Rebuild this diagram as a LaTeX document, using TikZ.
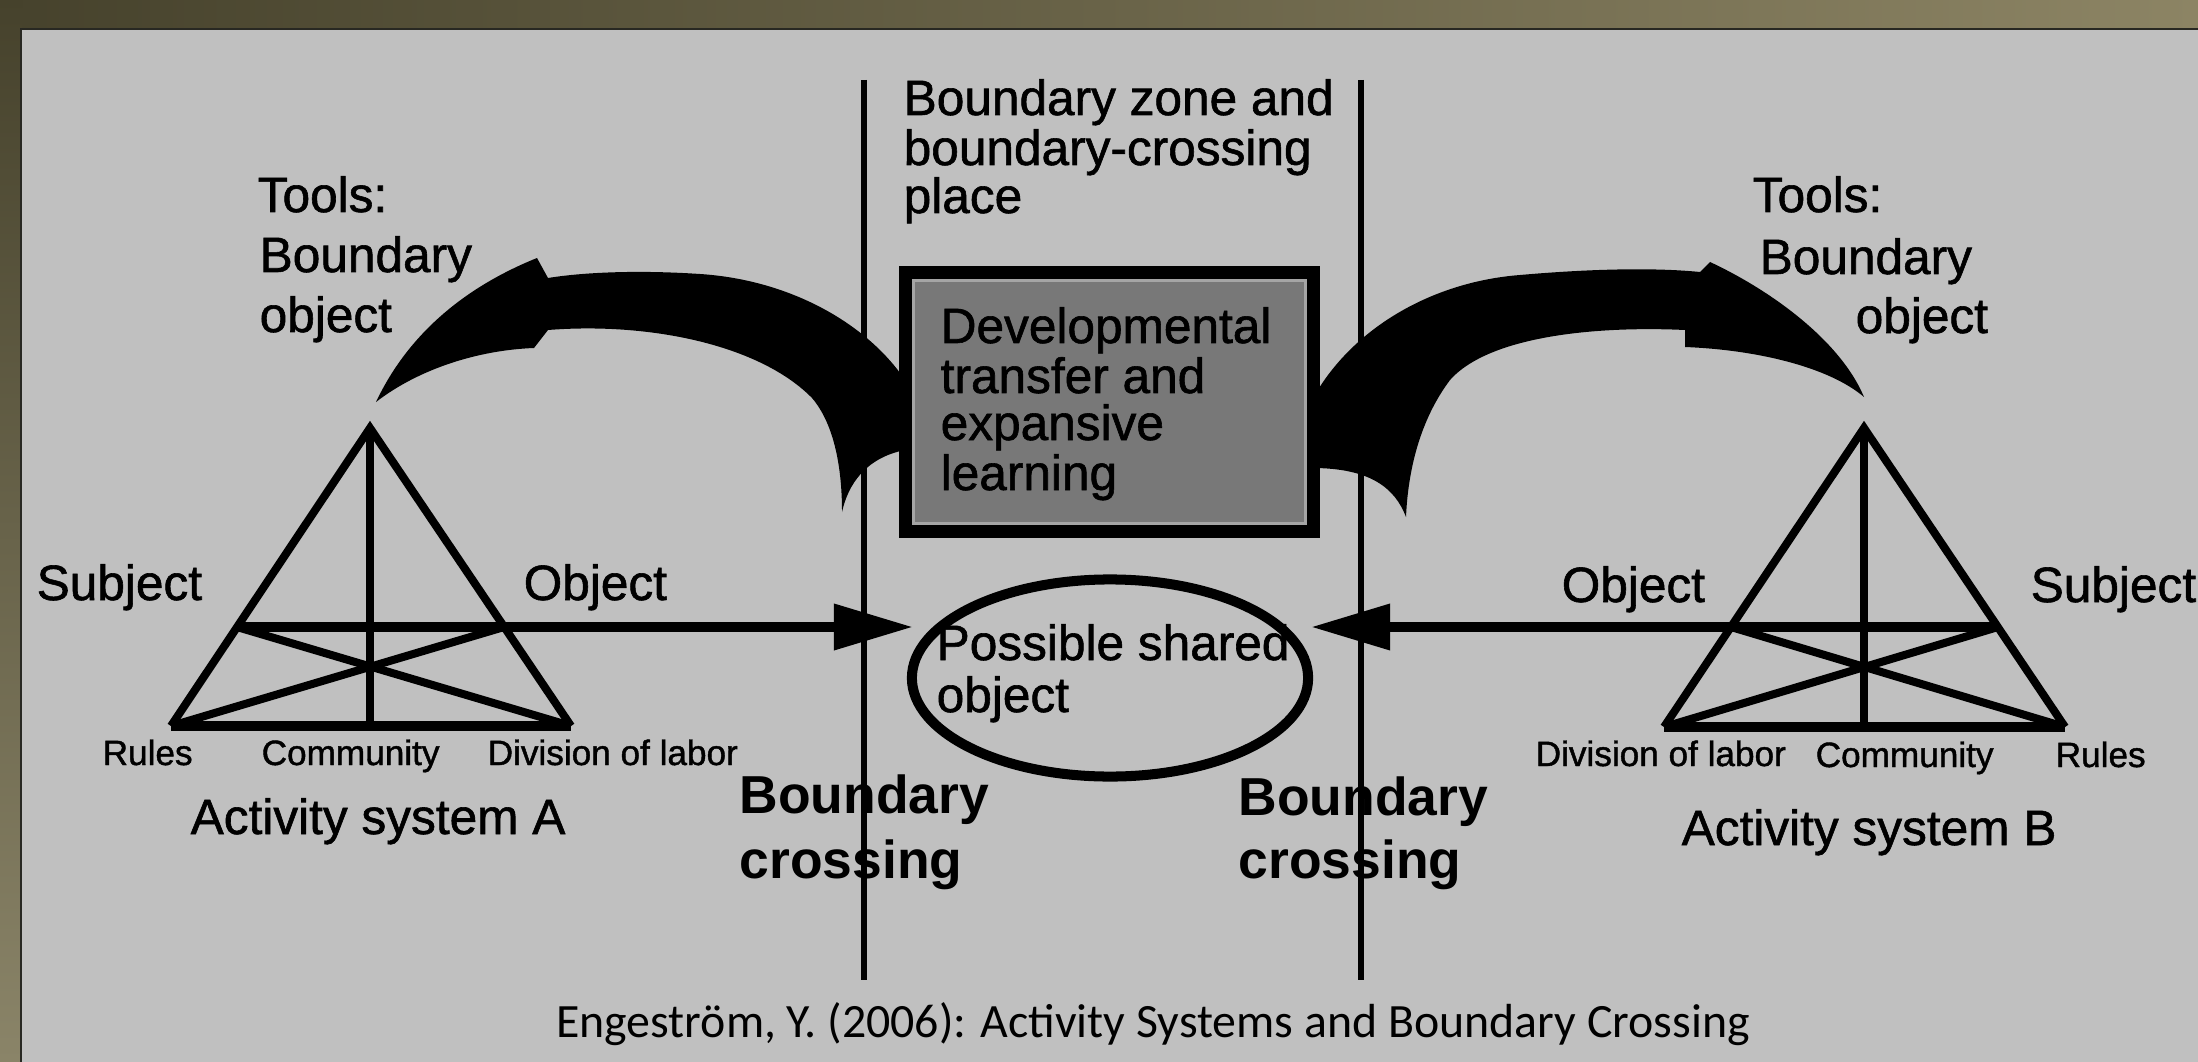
\documentclass[tikz,border=0pt]{standalone}
\usepackage{fontspec}
\setmainfont{Liberation Sans}
\newfontfamily\heavyfont{Liberation Sans}[FakeBold=1.2]
\newfontfamily\capfont{Carlito}
\usetikzlibrary{arrows.meta,shapes.geometric}
\definecolor{panel}{RGB}{192,192,192}
\definecolor{boxgray}{RGB}{120,120,120}
\definecolor{boxline}{RGB}{165,165,165}
\definecolor{bgdark}{RGB}{70,66,44}
\definecolor{bgtan}{RGB}{138,132,104}
\definecolor{bgright}{RGB}{140,132,100}
\definecolor{rimline}{RGB}{40,40,34}
\tikzset{
  txt/.style={anchor=base west, inner sep=0pt, font=\heavyfont\fontsize{14.1}{14}\selectfont},
  smalltxt/.style={anchor=base west, inner sep=0pt, font=\heavyfont\fontsize{10}{10}\selectfont},
  boldtxt/.style={anchor=base west, inner sep=0pt, font=\fontsize{15.2}{15}\selectfont\bfseries},
  tri/.style={line width=2.28pt},
  baseln/.style={line width=2.85pt},
  vline/.style={line width=1.85pt},
  headarrow/.style={baseln, -{Triangle[length=0.79cm, width=0.44cm]}},
}
\begin{document}
\begin{tikzpicture}[x=0.01cm,y=-0.01cm]
\useasboundingbox (0,0) rectangle (2198,1061);
% background and panel
\shade[left color=bgdark, right color=bgright] (0,0) rectangle (2198,30);
\shade[top color=bgdark, bottom color=bgtan] (0,0) rectangle (22,1061);
\fill[panel] (21,29) rectangle (2210,1070);
\draw[rimline, line width=0.6pt] (21,1070) -- (21,29) -- (2210,29);

% boundary lines
\coordinate (L1t) at (864,80);  \coordinate (L1b) at (864,980);
\coordinate (L2t) at (1361,80); \coordinate (L2b) at (1361,980);
\draw[vline] (L1t) -- (L1b);
\draw[vline] (L2t) -- (L2b);

% curved arrows
\fill[black] (905,380)
  .. controls (868,325) and (792,280) .. (700,274)
  .. controls (640,270) and (585,272) .. (548,278)
  -- (537,258)
  .. controls (470,285) and (410,330) .. (376,402)
  .. controls (420,368) and (480,350) .. (534,348)
  -- (548,330)
  .. controls (650,322) and (760,345) .. (812,398)
  .. controls (835,425) and (842,470) .. (842,512)
  .. controls (848,485) and (865,458) .. (905,450)
  -- cycle;
\fill[black] (1312,400)
  .. controls (1350,330) and (1430,282) .. (1520,275)
  .. controls (1600,268) and (1660,268) .. (1700,272)
  -- (1710,262)
  .. controls (1770,290) and (1840,340) .. (1864,397)
  .. controls (1830,368) and (1760,350) .. (1685,347)
  -- (1685,330)
  .. controls (1600,326) and (1490,335) .. (1450,380)
  .. controls (1420,420) and (1408,470) .. (1406,517)
  .. controls (1395,488) and (1370,468) .. (1312,468)
  -- cycle;

% developmental box
\node[draw=black, fill=boxgray, line width=3.98pt, minimum width=4.07cm, minimum height=2.58cm, inner sep=0pt] (devbox) at (1109.5,402) {};
\draw[boxline, line width=0.8pt] (913.5,280.5) rectangle (1305.5,523.5);
\node[txt] (dev1) at (940,343) {Developmental};
\node[txt] (dev2) at (940,393) {transfer and};
\node[txt] (dev3) at (940,440) {expansive};
\node[txt] (dev4) at (940,490) {learning};

% boundary zone label
\node[txt] (bz1) at (903,115) {Boundary zone and};
\node[txt] (bz2) at (903,165) {boundary-crossing};
\node[txt] (bz3) at (903,213) {place};

% tools labels
\node[txt] (tA1) at (257,212) {Tools:};
\node[txt] (tA2) at (259,272) {Boundary};
\node[txt] (tA3) at (259,332) {object};
\node[txt] (tB1) at (1752,212) {Tools:};
\node[txt] (tB2) at (1759,274) {Boundary};
\node[txt] (tB3) at (1855,333) {object};

% shared object ellipse
\node[draw, ellipse, line width=2.85pt, minimum width=3.96cm, minimum height=1.97cm, inner sep=0pt] (shared) at (1110,678) {};
\node[txt] (sh1) at (936,660) {Possible shared};
\node[txt] (sh2) at (936,712) {object};

% triangle A
\coordinate (Atop) at (370,428);
\coordinate (Abl) at (171,726);
\coordinate (Abr) at (571,726);
\coordinate (Abm) at (370,726);
\coordinate (Al) at (237,627);
\coordinate (Ar) at (504,627);
\coordinate (Atip) at (913,627);
\draw[tri] (Abl) -- (Atop) -- (Abr);
\draw[tri] (Atop) -- (Abm);
\draw[tri] (Al) -- (Abr);
\draw[tri] (Ar) -- (Abl);
\draw[baseln] (Abl) -- (Abr);
\draw[headarrow] (Al) -- (Atip);

% triangle B
\coordinate (Btop) at (1864,428);
\coordinate (Bbl) at (1664,727);
\coordinate (Bbr) at (2065,727);
\coordinate (Bbm) at (1864,727);
\coordinate (Bl) at (1731,627);
\coordinate (Br) at (1998,627);
\coordinate (Btip) at (1311,627);
\draw[tri] (Bbl) -- (Btop) -- (Bbr);
\draw[tri] (Btop) -- (Bbm);
\draw[tri] (Bl) -- (Bbr);
\draw[tri] (Br) -- (Bbl);
\draw[baseln] (Bbl) -- (Bbr);
\draw[headarrow] (Br) -- (Btip);

% triangle labels
\node[txt] (subA) at (36,600) {Subject};
\node[txt] (objA) at (523,600) {Object};
\node[smalltxt] (rulA) at (102,765) {Rules};
\node[smalltxt] (comA) at (261,765) {Community};
\node[smalltxt] (divA) at (487,765) {Division of labor};
\node[txt] (actA) at (190,834) {Activity system A};

\node[txt] (objB) at (1561,602) {Object};
\node[txt] (subB) at (2030,602) {Subject};
\node[smalltxt] (divB) at (1535,766) {Division of labor};
\node[smalltxt] (comB) at (1815,767) {Community};
\node[smalltxt] (rulB) at (2055,767) {Rules};
\node[txt] (actB) at (1681,845) {Activity system B};

% boundary crossing labels
\node[boldtxt] (bcA1) at (739,813) {Boundary};
\node[boldtxt] (bcA2) at (739,878) {crossing};
\node[boldtxt] (bcB1) at (1238,815) {Boundary};
\node[boldtxt] (bcB2) at (1238,878) {crossing};

% caption
\node[anchor=base, inner sep=0pt, font=\capfont\fontsize{13.6}{14}\selectfont] (cap) at (1153,1037) {Engeström, Y. (2006): Activity Systems and Boundary Crossing};
\end{tikzpicture}
\end{document}
